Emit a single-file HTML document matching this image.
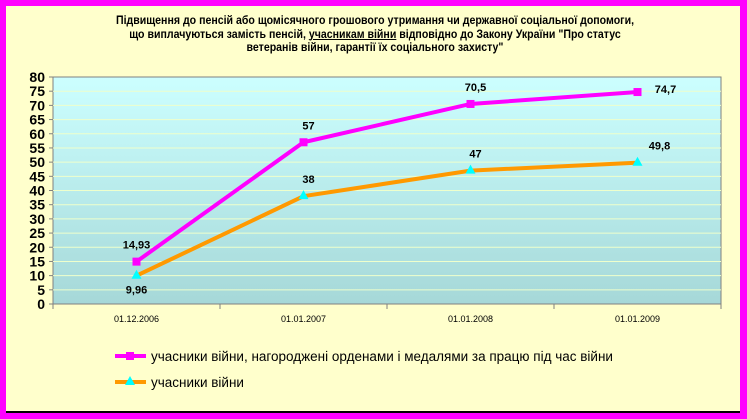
<!DOCTYPE html>
<html><head><meta charset="utf-8"><style>
body{margin:0;width:747px;height:419px;overflow:hidden;background:#ff00ff;font-family:"Liberation Sans",sans-serif}
#frame{position:absolute;left:6px;top:6px;width:734px;height:405px;background:#ffffcc;border-bottom:2px solid #000}
#title{position:absolute;left:85px;top:15px;width:580px;text-align:center;font-size:11.5px;font-weight:bold;line-height:13.5px;color:#000;transform:scaleX(0.92)}
</style></head><body>
<div id="frame"></div>
<div id="title">Підвищення до пенсій або щомісячного грошового утримання чи державної соціальної допомоги, що виплачуються замість пенсій, <u>учасникам війни</u> відповідно до Закону України "Про статус ветеранів війни, гарантії їх соціального захисту"</div>
<svg id="chart" width="747" height="419" style="position:absolute;left:0;top:0">
<defs><linearGradient id="pg" x1="0" y1="0" x2="0" y2="1"><stop offset="0" stop-color="#ccffff"/><stop offset="1" stop-color="#a6d8d8"/></linearGradient></defs>
</svg>
<script>
const categories=["01.12.2006","01.01.2007","01.01.2008","01.01.2009"];
const series1=[14.93,57,70.5,74.7];
const series2=[9.96,38,47,49.8];
const labels1=["14,93","57","70,5","74,7"];
const labels2=["9,96","38","47","49,8"];
const yTicks=[0,5,10,15,20,25,30,35,40,45,50,55,60,65,70,75,80];
const legendNames=["учасники війни, нагороджені орденами і медалями за працю під час війни","учасники війни"];
const L=53,R=721,T=77,B=304,NS="http://www.w3.org/2000/svg";
const svg=document.getElementById('chart');
const y=v=>B-(v/80)*(B-T);
const x=i=>L+(i+0.5)*(R-L)/categories.length;
function mk(t,a,p){const e=document.createElementNS(NS,t);for(const k in a)e.setAttribute(k,a[k]);(p||svg).appendChild(e);return e;}
const plot=mk('rect',{x:L,y:T,width:R-L,height:B-T,fill:'url(#pg)',stroke:'#808080'});


yTicks.forEach(v=>{
 if(v>0&&v<80){const g=mk('line',{x1:L,x2:R,y1:y(v),y2:y(v),stroke:'#eeffcc','stroke-width':1});
 
 }
 const tk=mk('line',{x1:L-4,x2:L,y1:y(v),y2:y(v),stroke:'#808080'});
 
 
 const t=mk('text',{x:L-8,y:y(v)+5,'text-anchor':'end','font-size':14,'font-weight':'bold'});
 t.textContent=v;
 
 
});
const xa=mk('line',{x1:L,x2:R,y1:B,y2:B,stroke:'#808080'});


categories.forEach((c,i)=>{
 const xx=L+i*(R-L)/4;
 const tk=mk('line',{x1:xx,x2:xx,y1:B,y2:B+5,stroke:'#808080'});
 
 
 const t=mk('text',{x:x(i),y:B+18,'text-anchor':'middle','font-size':9});
 t.textContent=c;
 
 
});
mk('line',{x1:R,x2:R,y1:B,y2:B+5,stroke:'#808080'});
function drawSeries(vals,labs,color,mcolor,tri,name){
 const p=mk('polyline',{points:vals.map((v,i)=>x(i)+','+y(v)).join(' '),fill:'none',stroke:color,'stroke-width':4});
 
 
 vals.forEach((v,i)=>{
  const m=tri?mk('polygon',{points:`${x(i)},${y(v)-6} ${x(i)-5},${y(v)+3} ${x(i)+5},${y(v)+3}`,fill:mcolor}):mk('rect',{x:x(i)-4,y:y(v)-4,width:8,height:8,fill:mcolor});
  
  
  let dy=(i==0&&tri)?18:-13, dx=i==3?22:(i==0?0:5);
  if(i==3&&!tri){dy=1;dx=28;}
  const t=mk('text',{x:x(i)+dx,y:y(v)+dy,'text-anchor':'middle','font-size':11,'font-weight':'bold'});
  t.textContent=labs[i];
  
  
 });
}
drawSeries(series1,labels1,'#ff00ff','#ff00ff',false,'series-awarded');
drawSeries(series2,labels2,'#ff9900','#00ffff',true,'series-veterans');
[[0,'#ff00ff','#ff00ff',false],[1,'#ff9900','#00ffff',true]].forEach(([k,c,m,tri])=>{
 const yy=356+k*26;
 const g=mk('g',{});
 
 
 mk('line',{x1:115,x2:146,y1:yy,y2:yy,stroke:c,'stroke-width':4},g);
 if(tri)mk('polygon',{points:`130,${yy-6} 125,${yy+3} 135,${yy+3}`,fill:m},g);else mk('rect',{x:126,y:yy-4,width:8,height:8,fill:m},g);
 const t=mk('text',{x:151,y:yy+5,'font-size':13.5},g);t.textContent=legendNames[k];
});
</script>
</body></html>
